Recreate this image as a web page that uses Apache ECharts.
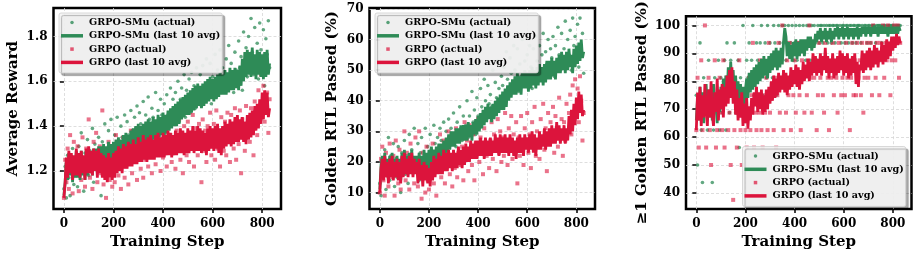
<!DOCTYPE html>
<html><head><meta charset="utf-8">
<script src="https://cdn.jsdelivr.net/npm/echarts@6/dist/echarts.min.js"></script>
<style>html,body{margin:0;padding:0;background:#fff}#c{width:917px;height:255px}</style>
</head><body><div id="c"></div>
<script>
// ---- data (one value every STEP training steps) ----
const STEP = 5;
const xTicks = [0, 200, 400, 600, 800];
const rewardTicks = [1.2, 1.4, 1.6, 1.8];
const goldenTicks = [10, 20, 30, 40, 50, 60, 70];
const anyTicks = [40, 50, 60, 70, 80, 90, 100];
const seriesNames = ['GRPO-SMu (actual)', 'GRPO-SMu (last 10 avg)', 'GRPO (actual)', 'GRPO (last 10 avg)'];

// Panel 1: Average Reward
const rewardSmuActual = [
1.12,1.22,1.08,1.27,1.17,1.09,1.24,1.30,1.14,1.20,
1.26,1.13,1.31,1.19,1.37,1.23,1.11,1.28,1.21,1.34,
1.18,1.29,1.24,1.39,1.15,1.32,1.26,1.21,1.35,1.28,
1.09,1.33,1.25,1.41,1.30,1.22,1.38,1.27,1.43,1.31,
1.24,1.36,1.29,1.44,1.33,1.26,1.40,1.35,1.30,1.45,
1.31,1.42,1.36,1.28,1.47,1.38,1.33,1.44,1.39,1.49,
1.35,1.46,1.41,1.32,1.51,1.40,1.45,1.37,1.53,1.43,
1.38,1.48,1.44,1.36,1.55,1.42,1.47,1.39,1.52,1.45,
1.40,1.50,1.37,1.54,1.45,1.41,1.57,1.47,1.52,1.43,
1.55,1.46,1.60,1.42,1.52,1.57,1.47,1.63,1.44,1.56,
1.50,1.61,1.46,1.64,1.53,1.58,1.48,1.66,1.55,1.51,
1.63,1.49,1.67,1.56,1.52,1.70,1.58,1.54,1.68,1.50,
1.62,1.56,1.72,1.53,1.65,1.59,1.74,1.55,1.66,1.61,
1.57,1.70,1.63,1.76,1.58,1.68,1.62,1.55,1.73,1.65,
1.60,1.78,1.66,1.71,1.56,1.82,1.69,1.75,1.62,1.80,
1.67,1.88,1.73,1.63,1.84,1.70,1.77,1.61,1.86,1.74,
1.68,1.83,1.58,1.79,1.72,1.87,1.66];
const rewardSmuAvg = [
1.09,1.15,1.25,1.16,1.28,1.18,1.27,1.15,1.26,1.17,
1.29,1.17,1.27,1.16,1.29,1.18,1.26,1.16,1.29,1.18,
1.30,1.19,1.28,1.18,1.30,1.20,1.30,1.19,1.31,1.21,
1.31,1.20,1.32,1.21,1.31,1.22,1.33,1.23,1.32,1.24,
1.33,1.23,1.34,1.25,1.35,1.25,1.34,1.26,1.36,1.27,
1.37,1.27,1.36,1.28,1.38,1.29,1.39,1.30,1.40,1.31,
1.41,1.31,1.40,1.32,1.41,1.32,1.42,1.33,1.43,1.34,
1.42,1.33,1.44,1.34,1.43,1.35,1.45,1.35,1.44,1.36,
1.46,1.36,1.45,1.37,1.47,1.38,1.48,1.39,1.49,1.40,
1.50,1.40,1.51,1.41,1.52,1.43,1.53,1.44,1.54,1.45,
1.55,1.45,1.56,1.46,1.57,1.47,1.58,1.48,1.59,1.49,
1.58,1.48,1.59,1.49,1.60,1.50,1.61,1.51,1.62,1.52,
1.61,1.51,1.62,1.52,1.63,1.53,1.64,1.54,1.63,1.54,
1.65,1.54,1.64,1.55,1.66,1.56,1.65,1.56,1.66,1.57,
1.65,1.56,1.67,1.58,1.70,1.60,1.73,1.62,1.74,1.63,
1.73,1.62,1.75,1.63,1.72,1.61,1.74,1.63,1.73,1.62,
1.72,1.61,1.73,1.62,1.74,1.63,1.68];
const rewardGrpoActual = [
1.08,1.25,1.15,1.30,1.12,1.36,1.20,1.10,1.33,1.18,
1.22,1.31,1.11,1.27,1.16,1.35,1.24,1.13,1.30,1.19,
1.43,1.17,1.28,1.12,1.33,1.21,1.37,1.15,1.26,1.31,
1.19,1.47,1.14,1.29,1.08,1.24,1.33,1.16,1.27,1.13,
1.30,1.15,1.36,1.21,1.18,1.32,1.12,1.27,1.35,1.17,
1.22,1.34,1.14,1.29,1.38,1.19,1.31,1.24,1.36,1.16,
1.27,1.39,1.21,1.33,1.17,1.36,1.25,1.41,1.22,1.30,
1.37,1.19,1.32,1.40,1.23,1.35,1.28,1.42,1.20,1.34,
1.26,1.39,1.31,1.22,1.44,1.29,1.36,1.24,1.41,1.33,
1.21,1.38,1.30,1.43,1.25,1.35,1.19,1.40,1.32,1.27,
1.42,1.24,1.37,1.30,1.45,1.22,1.39,1.33,1.27,1.41,
1.36,1.15,1.43,1.29,1.38,1.24,1.40,1.31,1.46,1.27,
1.33,1.41,1.25,1.47,1.30,1.38,1.22,1.44,1.35,1.29,
1.42,1.27,1.46,1.33,1.24,1.45,1.38,1.30,1.48,1.25,
1.40,1.32,1.47,1.19,1.43,1.35,1.29,1.49,1.37,1.42,
1.33,1.48,1.40,1.27,1.51,1.43,1.36,1.56,1.45,1.63,
1.50,1.58,1.42,1.66,1.55,1.37,1.52];
const rewardGrpoAvg = [
1.08,1.15,1.26,1.17,1.29,1.19,1.28,1.16,1.27,1.18,
1.30,1.18,1.28,1.17,1.29,1.19,1.27,1.16,1.30,1.19,
1.31,1.19,1.29,1.18,1.30,1.20,1.29,1.17,1.30,1.19,
1.28,1.17,1.27,1.16,1.26,1.15,1.28,1.17,1.26,1.16,
1.28,1.17,1.29,1.19,1.31,1.20,1.30,1.19,1.32,1.21,
1.31,1.21,1.33,1.22,1.32,1.22,1.34,1.23,1.32,1.23,
1.35,1.24,1.33,1.24,1.36,1.25,1.34,1.24,1.35,1.25,
1.36,1.25,1.34,1.25,1.36,1.26,1.37,1.26,1.35,1.26,
1.37,1.26,1.36,1.27,1.38,1.27,1.37,1.26,1.36,1.27,
1.38,1.27,1.37,1.28,1.39,1.28,1.38,1.27,1.37,1.28,
1.39,1.28,1.38,1.29,1.40,1.28,1.38,1.29,1.40,1.29,
1.39,1.28,1.38,1.29,1.37,1.27,1.39,1.29,1.40,1.30,
1.39,1.29,1.40,1.30,1.41,1.28,1.39,1.27,1.40,1.30,
1.42,1.31,1.41,1.32,1.43,1.31,1.42,1.32,1.44,1.33,
1.45,1.33,1.43,1.34,1.44,1.33,1.42,1.32,1.45,1.34,
1.46,1.35,1.47,1.36,1.49,1.38,1.50,1.39,1.52,1.41,
1.55,1.43,1.56,1.45,1.55,1.44,1.48];

// Panel 2: Golden RTL Passed (%)
const goldenSmuActual = [
13,9,20,16,24,11,18,28,14,22,
17,26,12,21,15,25,19,10,23,18,
27,16,22,13,29,19,24,17,31,21,
18,26,14,23,28,20,16,31,22,25,
19,29,24,21,32,26,18,28,23,31,
27,22,33,25,30,20,34,28,31,26,
36,29,25,33,28,38,31,27,35,30,
32,40,28,35,30,43,33,37,29,41,
35,31,44,38,33,47,40,36,45,39,
42,38,50,36,46,41,53,44,39,48,
45,51,41,56,47,43,54,49,45,58,
50,46,57,43,52,48,60,45,53,49,
55,47,58,51,44,57,49,61,53,48,
58,50,55,62,47,56,52,60,49,57,
54,61,48,58,52,64,55,50,62,53,
57,66,52,60,55,63,50,67,58,61,
55,65,51,67,58,62,49];
const goldenSmuAvg = [
11,19,22,15,23,16,21,14,22,16,
23,15,21,16,22,15,21,14,23,16,
24,17,22,16,23,17,24,16,22,17,
22,16,23,17,22,16,24,18,23,18,
24,18,25,19,24,19,25,20,26,20,
26,21,27,22,28,23,29,24,30,25,
30,25,31,26,31,26,32,27,32,27,
32,27,33,28,32,27,33,29,34,29,
35,30,36,31,37,32,38,33,39,34,
38,33,39,34,40,35,41,36,42,37,
43,37,44,38,45,40,46,41,47,42,
48,42,49,43,48,42,49,44,50,44,
49,43,50,44,51,45,50,44,51,45,
52,46,51,45,52,46,53,47,53,47,
54,48,53,47,54,49,55,49,56,50,
55,49,56,50,57,51,55,49,57,51,
58,52,59,53,60,54,56];
const goldenGrpoActual = [
10,21,25,14,9,23,17,12,26,19,
15,22,9,27,18,13,24,11,20,16,
30,14,23,19,11,26,17,21,13,28,
20,12,30,16,8,23,18,10,25,14,
11,22,17,26,13,20,9,24,18,29,
15,21,27,13,24,19,30,16,22,12,
26,18,31,15,23,28,19,25,14,33,
21,27,17,32,24,19,29,14,26,22,
34,20,28,24,16,31,26,22,35,18,
27,33,21,29,25,17,34,23,30,20,
28,22,36,25,19,31,27,35,21,29,
24,33,13,28,22,35,26,19,31,25,
36,23,29,18,33,26,38,22,30,27,
21,34,28,39,24,31,17,36,27,33,
29,38,23,35,31,25,41,28,34,22,
33,27,39,30,36,42,29,45,35,47,
38,44,33,48,40,27,36];
const goldenGrpoAvg = [
10,18,21,14,22,15,20,13,21,15,
22,14,20,15,21,14,20,13,22,15,
23,16,21,15,22,16,23,15,21,16,
20,13,21,14,19,12,20,14,19,13,
18,12,20,14,22,15,21,16,23,16,
22,16,24,17,23,17,24,18,23,17,
24,18,23,18,25,19,24,18,25,19,
26,20,25,20,27,21,26,21,27,21,
27,22,28,22,27,21,28,22,27,22,
28,22,27,23,29,23,28,22,29,23,
28,23,29,23,28,22,29,23,28,22,
27,21,28,23,29,23,28,22,29,24,
28,23,29,24,30,23,29,22,28,24,
30,24,29,25,31,24,30,25,31,25,
32,26,31,26,33,27,32,26,31,27,
32,26,31,27,35,29,37,30,39,32,
41,34,43,36,42,35,37];

// Panel 3: >=1 Golden RTL Passed (%)
const anySmuActual = [
75,50,68.75,93.75,62.5,43.75,81.25,68.75,75,62.5,
87.5,75,68.75,43.75,62.5,81.25,75,68.75,87.5,62.5,
81.25,68.75,75,87.5,62.5,93.75,81.25,68.75,87.5,75,
81.25,93.75,68.75,75,87.5,56.25,81.25,75,100,68.75,
75,87.5,81.25,93.75,68.75,87.5,100,75,81.25,93.75,
87.5,81.25,93.75,100,75,87.5,93.75,81.25,100,87.5,
93.75,87.5,81.25,100,93.75,75,87.5,100,93.75,87.5,
100,93.75,100,87.5,93.75,100,81.25,93.75,100,87.5,
93.75,100,87.5,93.75,100,93.75,81.25,100,93.75,87.5,
100,93.75,100,87.5,100,93.75,100,93.75,87.5,100,
93.75,100,100,93.75,100,87.5,100,93.75,100,100,
93.75,100,100,93.75,100,100,87.5,100,93.75,100,
100,93.75,100,100,93.75,100,100,93.75,100,100,
93.75,100,100,100,93.75,100,87.5,100,100,93.75,
100,100,93.75,100,100,100,93.75,100,100,100,
100,93.75,100,100,100,93.75,100,100,100,100,
100,100,93.75,100,100,100,100];
const anySmuAvg = [
66,74,66,78,68,76,65,75,79,69,
77,67,75,66,79,70,72,65,76,69,
78,70,81,72,82,74,85,77,87,78,
84,75,82,73,80,71,79,70,78,69,
77,81,74,83,76,84,77,85,78,86,
79,87,80,88,81,89,82,88,81,89,
83,90,84,91,85,92,84,91,85,92,
86,94,99,96,89,94,88,93,87,94,
89,95,88,94,89,95,90,95,89,95,
91,96,92,96,91,95,92,97,94,98,
95,99,94,98,95,99,94,98,95,99,
94,98,95,99,96,99.5,95,99,96,99.5,
95,99,96,99.5,95,99,96,99,95,99,
96,99.5,95,99,96,99.5,97,99.5,96,99.5,
97,99.5,96,99.5,97,100,97,99.5,96,99.5,
97,100,97,99.5,97,99.5,96,99.5,97,99.5,
97,99.5,97,99.5,97,99.5,98];
const anyGrpoActual = [
62.5,81.25,56.25,75,87.5,62.5,68.75,100,56.25,75,
81.25,62.5,50,75,68.75,87.5,56.25,62.5,75,81.25,
68.75,62.5,87.5,56.25,75,81.25,62.5,68.75,50,81.25,
37.5,62.5,75,56.25,68.75,87.5,62.5,50,75,68.75,
62.5,56.25,68.75,81.25,62.5,75,93.75,56.25,68.75,62.5,
75,68.75,87.5,62.5,56.25,75,68.75,81.25,62.5,93.75,
68.75,75,87.5,62.5,81.25,56.25,75,93.75,68.75,81.25,
100,62.5,81.25,68.75,87.5,75,93.75,62.5,81.25,75,
87.5,68.75,81.25,93.75,75,62.5,87.5,81.25,68.75,93.75,
75,87.5,100,81.25,68.75,93.75,81.25,87.5,62.5,75,
93.75,81.25,87.5,75,68.75,93.75,87.5,81.25,62.5,87.5,
81.25,93.75,75,87.5,81.25,68.75,93.75,87.5,75,81.25,
87.5,75,93.75,81.25,87.5,62.5,81.25,93.75,75,87.5,
75,93.75,81.25,87.5,75,93.75,68.75,81.25,87.5,93.75,
81.25,87.5,93.75,75,100,87.5,81.25,93.75,87.5,75,
93.75,87.5,100,81.25,93.75,87.5,100,93.75,75,87.5,
93.75,100,87.5,93.75,100,81.25,93.75];
const anyGrpoAvg = [
62.5,76,66,78,64,75,67,79,70,64,
77,67,80,68,64,76,69,81,66,77,
70,79,67,78,71,82,72,84,74,85,
72,80,68,77,66,74,67,76,64,72,
65,74,63,71,66,74,68,76,71,78,
69,76,70,77,68,75,69,77,70,78,
72,80,73,82,74,81,75,83,76,82,
77,84,76,83,75,82,77,85,78,84,
79,86,78,85,77,84,79,87,80,86,
81,88,80,87,82,90,83,89,82,88,
83,90,82,89,84,92,83,89,81,88,
83,90,81,88,82,89,83,91,84,90,
82,89,83,90,81,88,82,89,83,90,
79,87,78,86,84,91,83,90,84,91,
85,92,84,91,85,93,86,92,85,91,
87,94,86,93,87,95,88,94,89,96,
91,96,92,97,93,96,93.5];

// ---- chart ----
const GREEN = '#2e8b57', RED = '#dc143c';
const FONT = 'DejaVu Serif';
const pairs = arr => arr.map((v, i) => [i * STEP, v]);

const panels = [
  { left: 53.5, width: 227.5, yMin: 1.03, yMax: 1.927, yTicks: rewardTicks, yName: 'Average Reward', nameGap: 33,
    data: [rewardSmuActual, rewardSmuAvg, rewardGrpoActual, rewardGrpoAvg], legend: { left: 59, top: 13 } },
  { left: 369.5, width: 225.5, yMin: 4.6, yMax: 70.3, yTicks: goldenTicks, yName: 'Golden RTL Passed (%)', nameGap: 30,
    data: [goldenSmuActual, goldenSmuAvg, goldenGrpoActual, goldenGrpoAvg], legend: { left: 375, top: 13 } },
  { left: 686, width: 225.5, yMin: 34.2, yMax: 103.3, yTicks: anyTicks, yName: '≥1 Golden RTL Passed (%)', nameGap: 36,
    data: [anySmuActual, anySmuAvg, anyGrpoActual, anyGrpoAvg], legend: { left: 742.5, top: 146.5 } }
];

const labelStyle = { fontFamily: FONT, fontWeight: 'bold', fontSize: 12, color: '#000' };
const nameStyle = { fontFamily: FONT, fontWeight: 'bold', fontSize: 15, color: '#000' };
const splitStyle = { show: true, lineStyle: { type: [3, 2], color: '#d6d6d6', width: 0.8 } };

const option = {
  animation: false,
  backgroundColor: '#fff',
  grid: [], xAxis: [], yAxis: [], series: [], legend: []
};

panels.forEach((p, k) => {
  option.grid.push({ left: p.left, top: 8, width: p.width, height: 203, show: true,
    borderColor: '#000', borderWidth: 2.5, backgroundColor: 'transparent', containLabel: false });
  option.xAxis.push({ type: 'value', gridIndex: k, min: -42, max: 876,
    axisLine: { show: false },
    axisTick: { show: true, customValues: xTicks, length: 4, lineStyle: { color: '#000', width: 1.5 } },
    axisLabel: Object.assign({ customValues: xTicks, margin: 9 }, labelStyle),
    splitLine: splitStyle,
    name: 'Training Step', nameLocation: 'middle', nameGap: 23, nameTextStyle: nameStyle });
  option.yAxis.push({ type: 'value', gridIndex: k, min: p.yMin, max: p.yMax,
    axisLine: { show: false },
    axisTick: { show: true, customValues: p.yTicks, length: 4, lineStyle: { color: '#000', width: 1.5 } },
    axisLabel: Object.assign({ customValues: p.yTicks, margin: 6 }, labelStyle),
    splitLine: splitStyle,
    name: p.yName, nameLocation: 'middle', nameGap: p.nameGap, nameTextStyle: nameStyle });
  option.series.push(
    { type: 'scatter', name: seriesNames[0], xAxisIndex: k, yAxisIndex: k, data: pairs(p.data[0]),
      symbol: 'circle', symbolSize: 3.6, itemStyle: { color: GREEN, opacity: 0.75 }, silent: true },
    { type: 'line', name: seriesNames[1], xAxisIndex: k, yAxisIndex: k, data: pairs(p.data[1]),
      symbol: 'none', showSymbol: false, lineStyle: { color: GREEN, width: 2.8 }, itemStyle: { color: GREEN }, silent: true },
    { type: 'scatter', name: seriesNames[2], xAxisIndex: k, yAxisIndex: k, data: pairs(p.data[2]),
      symbol: 'rect', symbolSize: 4, itemStyle: { color: RED, opacity: 0.6 }, silent: true },
    { type: 'line', name: seriesNames[3], xAxisIndex: k, yAxisIndex: k, data: pairs(p.data[3]),
      symbol: 'none', showSymbol: false, lineStyle: { color: RED, width: 2.8 }, itemStyle: { color: RED }, silent: true }
  );
  option.legend.push({
    left: p.legend.left, top: p.legend.top, orient: 'vertical',
    padding: [3, 2, 4, 2], itemWidth: 22, itemHeight: 3.5, itemGap: 0.3,
    backgroundColor: 'rgba(244,244,244,0.92)', borderColor: '#cfcfcf', borderWidth: 0.8, borderRadius: 2,
    shadowColor: 'rgba(0,0,0,0.35)', shadowBlur: 1, shadowOffsetX: 2.5, shadowOffsetY: 2.5,
    selectedMode: false,
    textStyle: { fontFamily: FONT, fontWeight: 'bold', fontSize: 9.6, color: '#000', lineHeight: 13, padding: [0, 0, 0, 1] },
    data: [
      { name: seriesNames[0], icon: 'circle', itemStyle: { color: GREEN, opacity: 0.8 } },
      { name: seriesNames[1], icon: 'rect', itemStyle: { color: GREEN } },
      { name: seriesNames[2], icon: 'path://M0,0h1v1h-1z', itemStyle: { color: RED, opacity: 0.7 } },
      { name: seriesNames[3], icon: 'rect', itemStyle: { color: RED } }
    ]
  });
});

const chart = echarts.init(document.getElementById('c'), null, { renderer: 'canvas' });
chart.setOption(option);
</script>
</body></html>
